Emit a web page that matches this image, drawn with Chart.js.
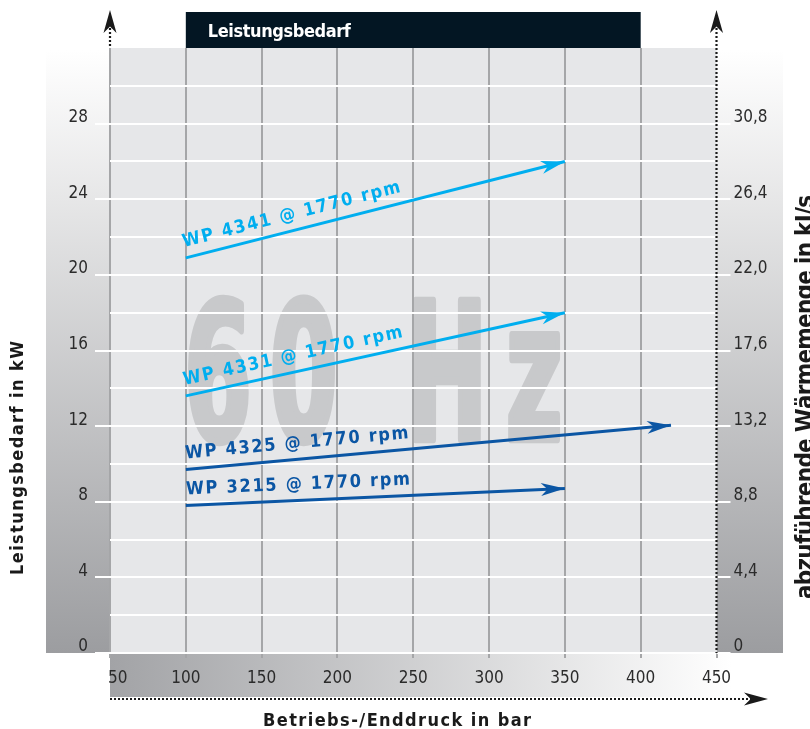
<!DOCTYPE html>
<html>
<head>
<meta charset="utf-8">
<script src="https://cdn.jsdelivr.net/npm/chart.js@4.4.1/dist/chart.umd.min.js"></script>
<style>
body { margin: 0; background: #fff; }
#wrap { width: 810px; height: 729px; }
</style>
</head>
<body>
<div id="wrap"><canvas id="chart" width="810" height="729"></canvas></div>
<script>
var FAM = '"Liberation Sans Narrow", "DejaVu Sans Condensed", "Liberation Sans", sans-serif';

// ticks
var pressureTicks = [50, 100, 150, 200, 250, 300, 350, 400, 450];
var powerTicks = [0, 4, 8, 12, 16, 20, 24, 28];
var heatTicks = ['0', '4,4', '8,8', '13,2', '17,6', '22,0', '26,4', '30,8'];

// series (start/end of each arrow)
var seriesNames = ['WP 4341 @ 1770 rpm', 'WP 4331 @ 1770 rpm', 'WP 4325 @ 1770 rpm', 'WP 3215 @ 1770 rpm'];
var pressureStart = [100, 100, 100, 100];
var pressureEnd = [350, 350, 420, 350];
var powerStart = [20.9, 13.6, 9.7, 7.8];
var powerEnd = [26.0, 18.0, 12.05, 8.7];

var seriesColors = ['#00aeef', '#00aeef', '#0b56a4', '#0b56a4'];

function spaced(ctx, text, x, y, len) {
    var widths = [], w = 0;
    for (var i = 0; i < text.length; i++) {
        widths.push(ctx.measureText(text[i]).width);
        w += widths[i];
    }
    var gap = text.length > 1 ? (len - w) / (text.length - 1) : 0;
    for (var j = 0; j < text.length; j++) {
        ctx.fillText(text[j], x, y);
        x += widths[j] + gap;
    }
}

function arrowHead(ctx, x, y, ang, len, half, color) {
    ctx.save();
    ctx.translate(x, y);
    ctx.rotate(ang);
    ctx.beginPath();
    ctx.moveTo(0, 0);
    ctx.lineTo(-len, -half);
    ctx.lineTo(-len * 0.72, 0);
    ctx.lineTo(-len, half);
    ctx.closePath();
    ctx.fillStyle = color;
    ctx.fill();
    ctx.restore();
}

var decor = {
    id: 'decor',
    beforeDraw: function (chart) {
        var ctx = chart.ctx, ca = chart.chartArea, xs = chart.scales.x;
        ctx.save();
        // side panels
        var g = ctx.createLinearGradient(0, 50, 0, ca.bottom);
        g.addColorStop(0, '#ffffff');
        g.addColorStop(1, '#9c9da0');
        ctx.fillStyle = g;
        ctx.fillRect(46, 50, ca.left - 46, ca.bottom - 50);
        ctx.fillRect(ca.right, 50, 783 - ca.right, ca.bottom - 50);
        // bottom band
        var h = ctx.createLinearGradient(ca.left, 0, 732, 0);
        h.addColorStop(0, '#a2a3a6');
        h.addColorStop(1, '#ffffff');
        ctx.fillStyle = h;
        ctx.fillRect(ca.left, ca.bottom, 732 - ca.left, 697 - ca.bottom);
        // plot area
        ctx.fillStyle = '#e6e7e9';
        ctx.fillRect(ca.left, ca.top, ca.right - ca.left, ca.bottom - ca.top);

        // 60 Hz watermark, heavy condensed
        var lw = 9;
        ctx.fillStyle = '#c8c9cb';
        ctx.strokeStyle = '#c8c9cb';
        ctx.lineJoin = 'round';
        ctx.font = 'bold 200px ' + FAM;
        ctx.textBaseline = 'alphabetic';
        ctx.textAlign = 'left';
        var m0 = ctx.measureText('0');
        var mH = ctx.measureText('H');
        var sx = 63 / (m0.actualBoundingBoxLeft + m0.actualBoundingBoxRight + lw);
        var sy = 146 / (mH.actualBoundingBoxAscent + lw);
        [['6', 188], ['0', 272], ['H', 413], ['z', 508]].forEach(function (c) {
            var m = ctx.measureText(c[0]);
            ctx.save();
            ctx.translate(c[1] + (m.actualBoundingBoxLeft + lw / 2) * sx, 443 - lw / 2 * sy);
            ctx.scale(sx, sy);
            ctx.lineWidth = lw;
            ctx.fillText(c[0], 0, 0);
            ctx.strokeText(c[0], 0, 0);
            ctx.restore();
        });

        // header box
        var x0 = xs.getPixelForValue(100), x1 = xs.getPixelForValue(400);
        ctx.fillStyle = '#031623';
        ctx.fillRect(x0, 12, x1 - x0, ca.top - 12);
        ctx.fillStyle = '#ffffff';
        ctx.font = 'bold 18px ' + FAM;
        spaced(ctx, 'Leistungsbedarf', x0 + 22, 37, 143);
        ctx.restore();
    },
    afterDatasetsDraw: function (chart) {
        var ctx = chart.ctx;
        ctx.save();
        chart.data.datasets.forEach(function (ds, i) {
            var pts = chart.getDatasetMeta(i).data;
            var p0 = pts[0], p1 = pts[pts.length - 1];
            var ang = Math.atan2(p1.y - p0.y, p1.x - p0.x);
            arrowHead(ctx, p1.x, p1.y, ang, 24, 6.5, ds.borderColor);
            ctx.save();
            ctx.translate(p0.x, p0.y);
            ctx.rotate(ang);
            ctx.fillStyle = ds.borderColor;
            ctx.font = 'bold 18px ' + FAM;
            ctx.textBaseline = 'alphabetic';
            spaced(ctx, ds.label, 1, -11, 224);
            ctx.restore();
        });
        ctx.restore();
    },
    afterDraw: function (chart) {
        var ctx = chart.ctx, ca = chart.chartArea;
        ctx.save();
        ctx.strokeStyle = '#1a1a1a';
        ctx.lineWidth = 2.2;
        ctx.setLineDash([2, 2]);
        ctx.beginPath();
        ctx.moveTo(ca.left, 28); ctx.lineTo(ca.left, ca.top);
        ctx.moveTo(ca.right, 28); ctx.lineTo(ca.right, ca.bottom);
        ctx.moveTo(ca.left, 699); ctx.lineTo(752, 699);
        ctx.stroke();
        ctx.setLineDash([]);
        arrowHead(ctx, ca.left, 10, -Math.PI / 2, 23, 6.5, '#1a1a1a');
        arrowHead(ctx, ca.right, 10, -Math.PI / 2, 23, 6.5, '#1a1a1a');
        arrowHead(ctx, 768, 699, 0, 24, 6.5, '#1a1a1a');

        // axis titles
        ctx.fillStyle = '#1a1a1a';
        ctx.font = 'bold 18px ' + FAM;
        ctx.textBaseline = 'alphabetic';
        spaced(ctx, 'Betriebs-/Enddruck in bar', 263, 726, 268);
        ctx.save();
        ctx.translate(23, 575);
        ctx.rotate(-Math.PI / 2);
        spaced(ctx, 'Leistungsbedarf in kW', 0, 0, 234);
        ctx.restore();
        ctx.save();
        ctx.font = 'bold 24px ' + FAM;
        ctx.translate(813, 599);
        ctx.rotate(-Math.PI / 2);
        spaced(ctx, 'abzuführende Wärmemenge in kJ/s', 0, 0, 404);
        ctx.restore();
        ctx.restore();
    }
};

var datasets = seriesNames.map(function (name, i) {
    return {
        label: name,
        data: [{ x: pressureStart[i], y: powerStart[i] }, { x: pressureEnd[i], y: powerEnd[i] }],
        borderColor: seriesColors[i],
        backgroundColor: seriesColors[i],
        borderWidth: 3,
        pointRadius: 0,
        tension: 0,
        fill: false
    };
});

function isMajor(v) { return powerTicks.indexOf(v) >= 0; }

var chart = new Chart(document.getElementById('chart').getContext('2d'), {
    type: 'line',
    data: { datasets: datasets },
    options: {
        responsive: false,
        animation: false,
        layout: { padding: { top: 48, left: 0, right: 0, bottom: 0 } },
        plugins: { legend: { display: false }, tooltip: { enabled: false }, title: { display: false } },
        font: { family: FAM },
        scales: {
            x: {
                type: 'linear',
                min: pressureTicks[0],
                max: pressureTicks[pressureTicks.length - 1],
                afterBuildTicks: function (s) { s.ticks = pressureTicks.map(function (v) { return { value: v }; }); },
                afterFit: function (s) { s.height = 76; },
                border: { display: false },
                grid: {
                    color: function (c) { return c.tick && c.tick.value === 450 ? 'rgba(0,0,0,0)' : '#a5a6a8'; },
                    lineWidth: 2,
                    tickLength: 5,
                    tickColor: '#a5a6a8'
                },
                ticks: {
                    padding: 10,
                    color: '#2b2b2b',
                    font: { family: FAM, size: 17 },
                    maxRotation: 0,
                    autoSkip: false,
                    callback: function (v, i) { return i === 0 ? '\u2002\u2002' + v : String(v); }
                }
            },
            y: {
                position: 'left',
                min: 0,
                max: 32,
                afterFit: function (s) { s.width = 110; },
                border: { display: false },
                grid: {
                    color: function (c) { return c.tick && c.tick.value >= 32 ? 'rgba(0,0,0,0)' : '#ffffff'; },
                    lineWidth: 2,
                    tickLength: 15,
                    tickColor: function (c) { return c.tick && isMajor(c.tick.value) ? '#ffffff' : 'rgba(0,0,0,0)'; }
                },
                ticks: {
                    stepSize: 2,
                    autoSkip: false,
                    padding: 7,
                    labelOffset: -6,
                    color: '#2b2b2b',
                    font: { family: FAM, size: 17 },
                    callback: function (v) { var i = powerTicks.indexOf(v); return i < 0 ? '' : String(powerTicks[i]); }
                }
            },
            y2: {
                position: 'right',
                min: 0,
                max: 32,
                afterFit: function (s) { s.width = 93.5; },
                border: { display: false },
                grid: {
                    drawOnChartArea: false,
                    lineWidth: 2,
                    tickLength: 14,
                    tickColor: function (c) { return c.tick && isMajor(c.tick.value) ? '#ffffff' : 'rgba(0,0,0,0)'; }
                },
                ticks: {
                    stepSize: 2,
                    autoSkip: false,
                    padding: 3,
                    labelOffset: -6,
                    color: '#2b2b2b',
                    font: { family: FAM, size: 17 },
                    callback: function (v) { var i = powerTicks.indexOf(v); return i < 0 ? '' : heatTicks[i]; }
                }
            }
        }
    },
    plugins: [decor]
});
</script>
</body>
</html>
